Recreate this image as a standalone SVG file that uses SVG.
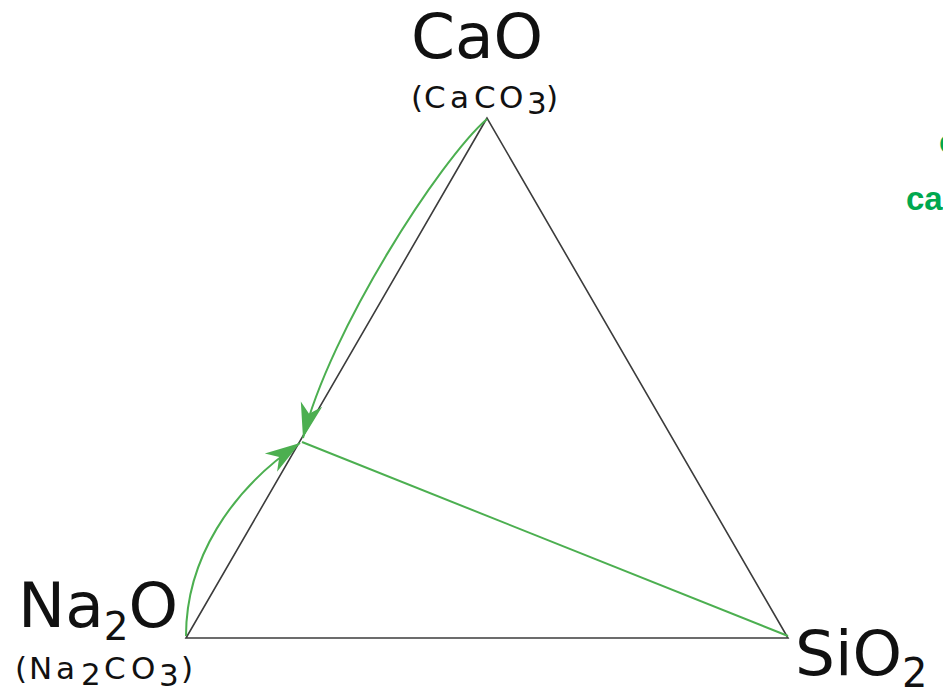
<svg xmlns="http://www.w3.org/2000/svg" width="943" height="699" viewBox="0 0 943 699">
<style>
.lbl{font-family:"DejaVu Sans","Liberation Sans",sans-serif;fill:#111}
.big{font-size:63px}
.small{font-size:31px}
.note{font-family:"Liberation Sans",Arial,sans-serif;font-weight:bold;font-size:33px;fill:#00a84f}
.edge{fill:none;stroke:#3c3c3c;stroke-width:1.6}
.g{fill:none;stroke:#4caf50;stroke-width:2}
</style>
<defs>
<marker id="ah" markerUnits="userSpaceOnUse" viewBox="-36 -13 38 26" refX="0" refY="0" markerWidth="38" markerHeight="26" orient="auto">
<path d="M0,0 L-35,-11 L-25,0 L-35,11 Z" fill="#4caf50"/>
</marker>
</defs>
<rect width="943" height="699" fill="#fff"/>
<g id="triangle">
<polygon class="edge" points="487,118 186,638 788,638"/>
</g>
<g id="connectors">
<path class="g" d="M302,442 L788,636"/>
<path class="g" d="M487,119 C440,160 330,330 303,438" marker-end="url(#ah)"/>
<path class="g" d="M186,636 C186,560 230,490 300,443" marker-end="url(#ah)"/>
</g>
<g id="node-cao">
<text class="lbl big" x="411" y="58">CaO</text>
<text class="lbl small" x="411 424 450 474 499 527 546" y="108 108 108 108 108 114 108">(CaCO3)</text>
</g>
<g id="node-na2o">
<text class="lbl big" x="18" y="627">Na<tspan font-size="39" dy="13">2</tspan><tspan dy="-13">O</tspan></text>
<text class="lbl small" x="15 29 56 81 104 131 159 181" y="679 679 679 685 679 679 686 679">(Na2CO3)</text>
</g>
<g id="node-sio2">
<text class="lbl big" x="795" y="675">SiO<tspan font-size="40" dy="12">2</tspan></text>
</g>
<g id="note">
<text class="note" x="939" y="153">c</text>
<text class="note" x="906" y="210">ca</text>
</g>
</svg>
